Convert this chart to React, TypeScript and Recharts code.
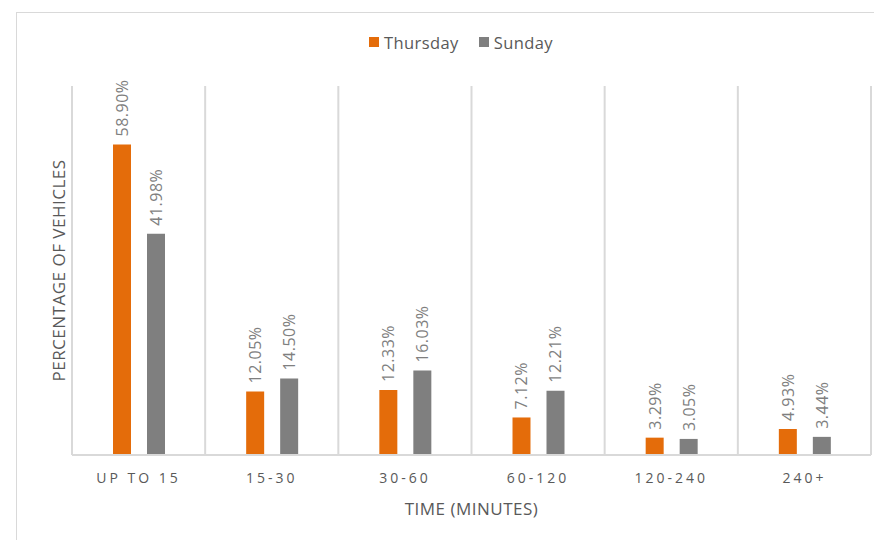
import React from "react";
import { BarChart, Bar, XAxis, YAxis, CartesianGrid, Legend, LabelList } from "recharts";

const categories = ["UP TO 15", "15-30", "30-60", "60-120", "120-240", "240+"];
const thursday = [58.9, 12.05, 12.33, 7.12, 3.29, 4.93];
const sunday = [41.98, 14.5, 16.03, 12.21, 3.05, 3.44];

const ORANGE = "#E46C0A";
const GRAY = "#7F7F7F";
const GRID = "#D9D9D9";
const TEXT = "#595959";
const FONT = "'Open Sans', 'Noto Sans', sans-serif";

const data = categories.map((c, i) => ({ category: c, Thursday: thursday[i], Sunday: sunday[i] }));

function BarValue(props: any) {
  const { x, y, width, value } = props;
  const cx = Number(x) + Number(width) / 2;
  const ty = Number(y) - 8;
  return (
    <text
      x={cx}
      y={ty}
      transform={`rotate(-90 ${cx} ${ty})`}
      textAnchor="start"
      dominantBaseline="central"
      fill={GRAY}
      fontSize={16}
      letterSpacing={0.5}
      fontFamily={FONT}
    >
      {Number(value).toFixed(2)}%
    </text>
  );
}

function LegendContent() {
  const items = [
    { name: "Thursday", color: ORANGE },
    { name: "Sunday", color: GRAY },
  ];
  return (
    <div style={{ display: "flex", justifyContent: "center", height: 20, alignItems: "center", fontFamily: FONT, fontSize: 16.5, letterSpacing: 0.4, color: TEXT, paddingRight: 20 }}>
      {items.map(it => (
        <div key={it.name} style={{ display: "flex", alignItems: "center", margin: "0 10px" }}>
          <span style={{ width: 10, height: 10, background: it.color, display: "inline-block", marginRight: 5 }} />
          {it.name}
        </div>
      ))}
    </div>
  );
}

export default function App() {
  return (
    <div style={{ position: "absolute", left: 0, top: 0, width: 874, height: 540, background: "#fff", overflow: "hidden" }}>
      <div style={{ position: "absolute", left: 16, top: 12, width: 880, height: 560, border: `1px solid ${GRID}` }} />
      <div style={{ position: "absolute", left: 0, top: 0 }}>
        <BarChart
          width={874}
          height={540}
          data={data}
          barSize={18}
          barGap={16}
          margin={{ top: 66, right: 3, left: 71, bottom: 0 }}
        >
          <CartesianGrid
            horizontal={false}
            stroke={GRID}
            strokeWidth={2}
            verticalCoordinatesGenerator={({ offset }: any) =>
              categories.map((_, i) => offset.left + (i * offset.width) / categories.length).concat(offset.left + offset.width)
            }
          />
          <XAxis
            dataKey="category"
            height={85}
            axisLine={{ stroke: GRID, strokeWidth: 2 }}
            tickLine={false}
            interval={0}
            tick={{ fill: TEXT, fontSize: 14, fontFamily: FONT, letterSpacing: 3, dy: 10 }}
            label={{
              content: ({ viewBox }: any) => (
                <text
                  x={viewBox.x + viewBox.width / 2}
                  y={viewBox.y + 53}
                  textAnchor="middle"
                  dominantBaseline="central"
                  fill={TEXT}
                  fontSize={17}
                  letterSpacing={0.5}
                  fontFamily={FONT}
                >
                  TIME (MINUTES)
                </text>
              ),
            }}
          />
          <YAxis
            width={1}
            domain={[0, 70]}
            tick={false}
            axisLine={false}
            tickLine={false}
            label={{
              content: ({ viewBox }: any) => {
                const x = 58;
                const y = viewBox.y + viewBox.height / 2;
                return (
                  <text
                    x={x}
                    y={y}
                    transform={`rotate(-90 ${x} ${y})`}
                    textAnchor="middle"
                    dominantBaseline="central"
                    fill={TEXT}
                    fontSize={17}
                    letterSpacing={0.5}
                    fontFamily={FONT}
                  >
                    PERCENTAGE OF VEHICLES
                  </text>
                );
              },
            }}
          />
          <Legend verticalAlign="top" height={20} wrapperStyle={{ top: 32 }} content={<LegendContent />} />
          <Bar dataKey="Thursday" fill={ORANGE} isAnimationActive={false}>
            <LabelList dataKey="Thursday" content={<BarValue />} />
          </Bar>
          <Bar dataKey="Sunday" fill={GRAY} isAnimationActive={false}>
            <LabelList dataKey="Sunday" content={<BarValue />} />
          </Bar>
        </BarChart>
      </div>
    </div>
  );
}
